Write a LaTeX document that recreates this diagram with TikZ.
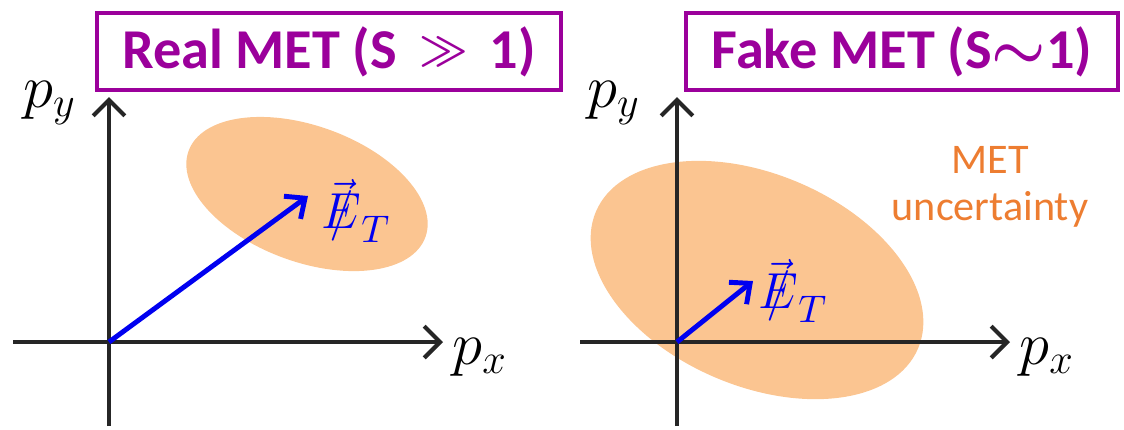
\documentclass[tikz,border=0pt]{standalone}
\usepackage[no-math]{fontspec}
\setmainfont{Carlito}
\usetikzlibrary{arrows.meta}
\definecolor{ttl}{RGB}{155,0,155}
\definecolor{metfill}{RGB}{251,197,145}
\definecolor{mettext}{RGB}{237,125,49}
\definecolor{axisgray}{RGB}{38,38,38}
\definecolor{vecblue}{RGB}{0,0,240}
\newcommand{\metE}{\mathord{\ooalign{$E$\cr\hidewidth$/$\hidewidth\cr}}}
\begin{document}
\begin{tikzpicture}[x=0.01cm,y=-0.01cm,
  axis/.style={draw=axisgray,line width=1.2pt,-{Straight Barb[length=4.5pt,width=9pt]}},
  vecarrow/.style={draw=vecblue,line width=1.4pt,-{Straight Barb[length=4.5pt,width=8pt]}},
  titlebox/.style={draw=ttl,line width=1.3pt,text=ttl,font=\fontsize{16}{19}\selectfont\bfseries,inner sep=0pt,minimum height=0.77cm},
  axlabel/.style={font=\fontsize{18}{20}\selectfont,inner sep=0pt},
  etlabel/.style={font=\fontsize{15.5}{18}\selectfont,text=vecblue,inner sep=0pt,anchor=base west},
  unclabel/.style={font=\fontsize{12}{13.3}\selectfont,text=mettext,inner sep=0pt,align=center},
  ellfill/.style={fill=metfill}]
\useasboundingbox (0,0) rectangle (1124,429);
% ---------- left panel ----------
\fill[ellfill,shift={(307,194)},rotate=-20] (0,0) ellipse [x radius=126, y radius=68];
\coordinate (o1) at (109,342);
\coordinate (xl1) at (13,342);
\coordinate (xr1) at (443,342);
\coordinate (yb1) at (109,426);
\coordinate (yt1) at (109,97);
\coordinate (v1) at (308,196);
\draw[axis] (xl1) -- (xr1);
\draw[axis] (yb1) -- (yt1);
\draw[vecarrow] (o1) -- (v1);
\node[etlabel] (et1) at (321,228) {$\vec{\metE}_T$};
\node[axlabel] (py1) at (50,103) {$p_y$};
\node[axlabel] (px1) at (480,357) {$p_x$};
\node[titlebox,minimum width=4.64cm] (t1) at (329,51.5) {Real MET (S\, \raisebox{1.6pt}{\fontsize{12.5}{12}\selectfont\boldmath$\gg$}\, 1)};
% ---------- right panel ----------
\fill[ellfill,shift={(757,280)},rotate=-23] (0,0) ellipse [x radius=175, y radius=106];
\coordinate (o2) at (677,342);
\coordinate (xl2) at (580,342);
\coordinate (xr2) at (1010,342);
\coordinate (yb2) at (677,426);
\coordinate (yt2) at (677,97);
\coordinate (v2) at (753,281);
\draw[axis] (xl2) -- (xr2);
\draw[axis] (yb2) -- (yt2);
\draw[vecarrow] (o2) -- (v2);
\node[etlabel] (et2) at (758,308) {$\vec{\metE}_T$};
\node[axlabel] (py2) at (614,103) {$p_y$};
\node[axlabel] (px2) at (1047,357) {$p_x$};
\node[titlebox,minimum width=4.32cm] (t2) at (902,51.5) {Fake MET (S{\boldmath$\sim$}1)};
\node[unclabel] (unc) at (990,187) {MET\\uncertainty};
\end{tikzpicture}
\end{document}
